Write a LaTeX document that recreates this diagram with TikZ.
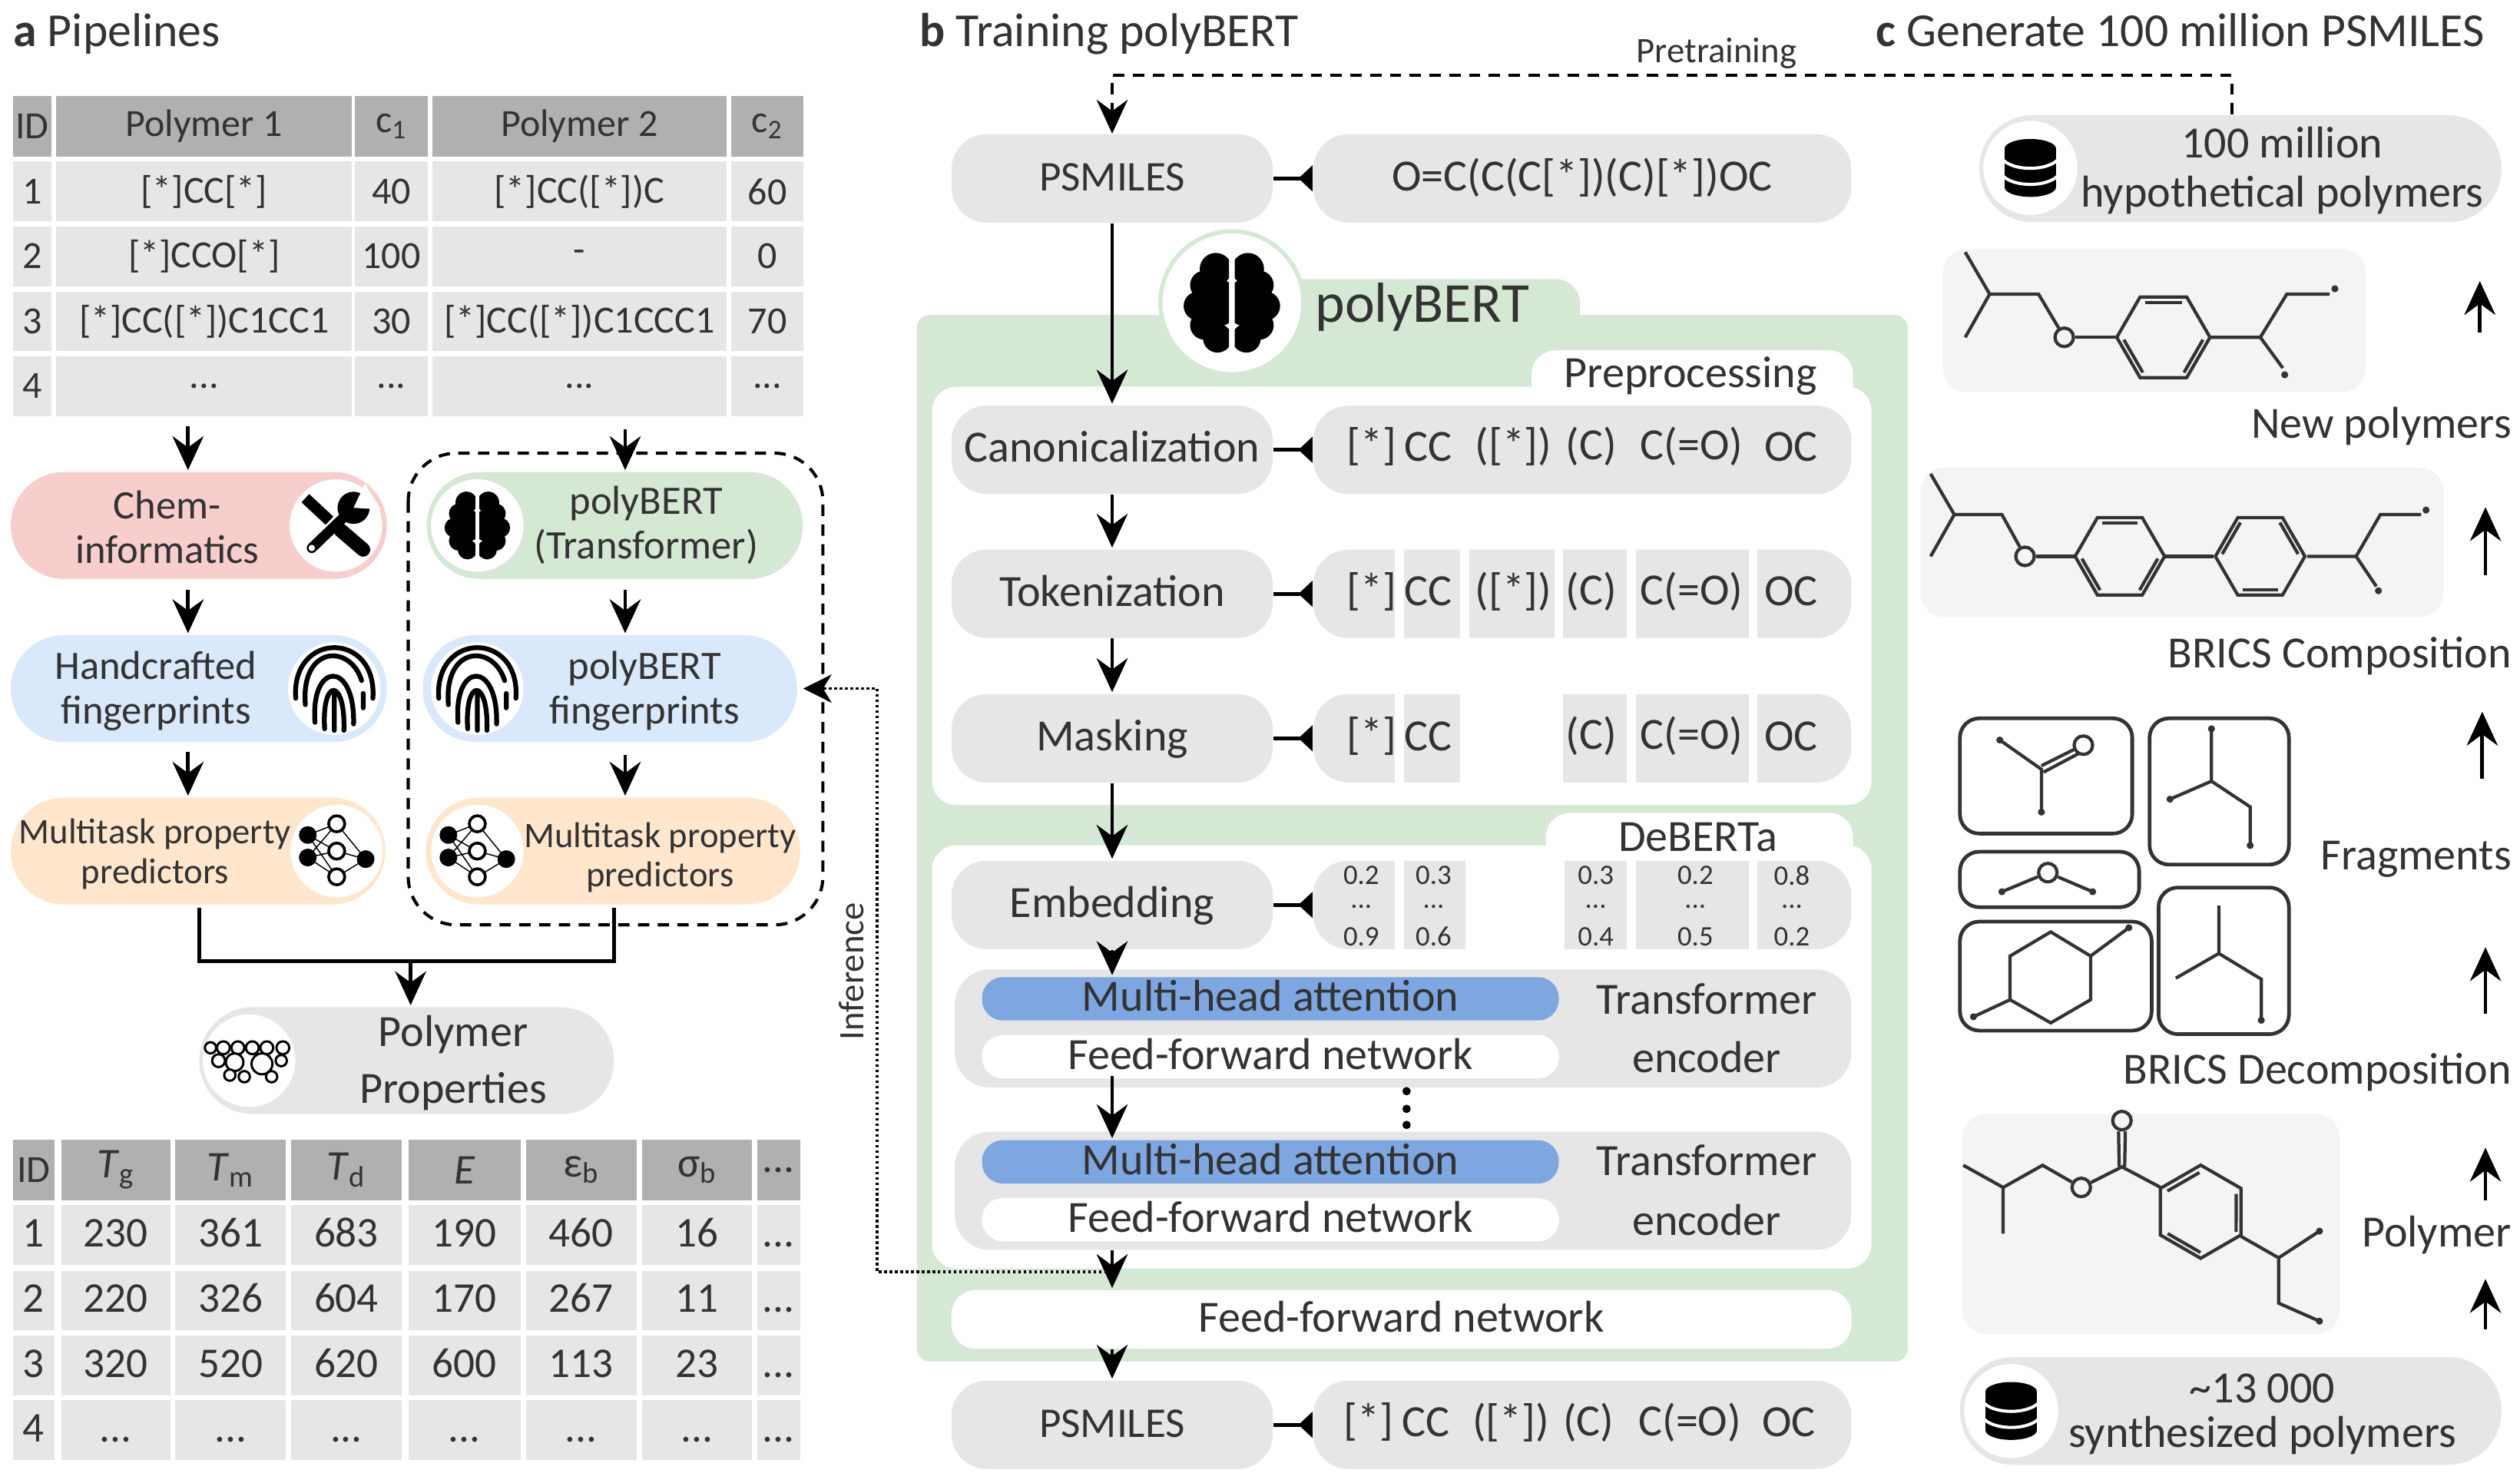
\documentclass[tikz,border=0pt]{standalone}
\usepackage{fontspec}
\setmainfont{Carlito}
\usepackage{xcolor}
\usepackage{tikz}
\usetikzlibrary{arrows.meta}

\definecolor{hdrgray}{HTML}{B0B0B0}
\definecolor{cellgray}{HTML}{E6E6E6}
\definecolor{molgray}{HTML}{F4F4F4}
\definecolor{pinkfill}{HTML}{F8CECC}
\definecolor{greenfill}{HTML}{D5E8D4}
\definecolor{bluefill}{HTML}{DAE8FC}
\definecolor{orangefill}{HTML}{FFE6CC}
\definecolor{headblue}{HTML}{7EA6E0}
\definecolor{inkc}{HTML}{333333}

\tikzset{
  lbl/.style={inner sep=0pt,align=center,text=inkc,font=\fontsize{14.3}{15.8}\selectfont},
  biglbl/.style={lbl,font=\fontsize{15.8}{17.3}\selectfont},
  small/.style={lbl,font=\fontsize{12.7}{14}\selectfont},
  titlelbl/.style={lbl,anchor=base west,font=\fontsize{16.8}{18}\selectfont},
  rightlbl/.style={biglbl,anchor=east},
  numlbl/.style={lbl,font=\fontsize{10}{11}\selectfont},
  hcell/.style={fill=hdrgray,inner sep=0pt,minimum height=.76cm,text=inkc,font=\fontsize{13.6}{15}\selectfont},
  bcell/.style={hcell,fill=cellgray,minimum height=.745cm},
  phead/.style={hcell,font=\fontsize{15}{16}\selectfont},
  pcell/.style={bcell,font=\fontsize{15}{16}\selectfont,text height=11pt,text depth=2.6pt},
  pillbox/.style={inner sep=0pt,minimum height=1.33cm,rounded corners=.66cm},
  iconbg/.style={circle,fill=white,inner sep=0pt,minimum size=1.18cm,line width=.8pt},
  grayblock/.style={biglbl,fill=cellgray,inner sep=0pt,minimum height=1.1cm,rounded corners=.44cm,text height=12pt,text depth=3.2pt},
  thinpill/.style={biglbl,fill=white,inner sep=0pt,minimum width=7.18cm,minimum height=.54cm,rounded corners=.26cm,text height=12pt,text depth=3.2pt},
  bluepill/.style={thinpill,fill=headblue},
  encbox/.style={fill=cellgray,inner sep=0pt,minimum width=11.16cm,minimum height=1.47cm,rounded corners=.44cm},
  fragbox/.style={draw=inkc,line width=1.3pt,rounded corners=.24cm},
  bond/.style={draw=inkc,line width=1.15pt},
  oatom/.style={circle,draw=inkc,line width=1.15pt,inner sep=0pt,minimum size=.23cm},
  flow/.style={black,line width=1.3pt,shorten >=.5pt,-{Stealth[length=12pt,width=11pt,inset=4pt]}},
  link/.style={black,line width=1.2pt},
  bar/.style={black,line width=1.3pt,-{Triangle[reversed,length=5pt,width=9pt]}},
  pretrain/.style={black,line width=1.1pt,dash pattern=on 4pt off 3pt,-{Stealth[length=12pt,width=11pt,inset=4pt]}},
  infer/.style={black,line width=.9pt,densely dotted,-{Stealth[length=10pt,width=10pt,inset=3pt]}},
  brainicon/.pic={
    \begin{scope}
      \clip (-32,-34) rectangle (-1.8,34);
      \fill (-10,-21) circle (10);
      \fill (-17,-11) circle (9);
      \fill (-21,2) circle (9);
      \fill (-17,14) circle (9);
      \fill (-9,22) circle (9);
      \fill (-10,0) circle (15);
    \end{scope}
    \begin{scope}
      \clip (1.8,-34) rectangle (32,34);
      \fill (10,-21) circle (10);
      \fill (17,-11) circle (9);
      \fill (21,2) circle (9);
      \fill (17,14) circle (9);
      \fill (9,22) circle (9);
      \fill (10,0) circle (15);
    \end{scope}
  },
  toolicon/.pic={
    \draw[line width=4pt] (-19,-17) -- (-4,-3);
    \draw[line width=5pt,line cap=round] (3,3) -- (17,15);
    \draw[line width=3.6pt,line cap=round] (-15,14) -- (9,-9);
    \fill (11,-11) circle (10);
    \fill[white] (11,-11) -- (18,-26) -- (28,-10) -- cycle;
    \fill[white] (-15,14) circle (2);
  },
  printicon/.pic={
    \draw[line width=1.7pt,line cap=round]
      (-24,6) .. controls (-27,-36) and (27,-36) .. (24,6)
      (-18,10) .. controls (-21,-27) and (10,-28) .. (17,-5)
      (18,3) -- (18,12)
      (-12,21) .. controls (-15,-17) and (13,-18) .. (12,22)
      (-6,25) .. controls (-8,-7) and (7,-7) .. (6,26)
      (0,26) -- (0,4);
  },
  neticon/.pic={
    \draw[line width=.4pt] (-18,-10) -- (0,-17) -- (18,5) -- (0,16) -- (-18,4) -- (0,0) -- (18,5)
      (-18,-10) -- (0,0) (-18,-10) -- (0,16) (-18,4) -- (0,-17);
    \fill (-18,-10) circle (5.5);
    \fill (-18,4) circle (5.5);
    \fill (18,5) circle (5.5);
    \draw[line width=1pt,fill=white] (0,-17) circle (5);
    \draw[line width=1pt,fill=white] (0,0) circle (5);
    \draw[line width=1pt,fill=white] (0,16) circle (5);
  },
  chainicon/.pic={
    \draw[line width=.8pt,fill=white] (-24,-8) circle (3.5);
    \draw[line width=.8pt,fill=white] (-16,-8) circle (4);
    \draw[line width=.8pt,fill=white] (-7,-8) circle (4);
    \draw[line width=.8pt,fill=white] (2,-8) circle (4);
    \draw[line width=.8pt,fill=white] (11,-8) circle (4);
    \draw[line width=.8pt,fill=white] (21,-8) circle (4);
    \draw[line width=.8pt,fill=white] (-19,0) circle (4);
    \draw[line width=.8pt,fill=white] (-9,1) circle (5.5);
    \draw[line width=.8pt,fill=white] (8,2) circle (6.5);
    \draw[line width=.8pt,fill=white] (20,0) circle (3.5);
    \draw[line width=.8pt,fill=white] (-12,9) circle (3.5);
    \draw[line width=.8pt,fill=white] (-3,10) circle (3.5);
    \draw[line width=.8pt,fill=white] (14,10) circle (3.5);
  },
  dbicon/.pic={
    \fill (0,-12) ellipse (16 and 6);
    \fill (-16,-12) rectangle (16,12);
    \fill (0,12) ellipse (16 and 6);
    \draw[white,line width=1.1pt] (-17,-5) .. controls (-10,2) and (10,2) .. (17,-5);
    \draw[white,line width=1.1pt] (-17,5) .. controls (-10,12) and (10,12) .. (17,5);
  },
  benzene/.pic={
    \draw[bond] (29,0) -- (14.5,-25.1) -- (-14.5,-25.1) -- (-29,0) -- (-14.5,25.1) -- (14.5,25.1) -- cycle;
    \draw[bond] (-11.5,-21.5) -- (11.5,-21.5);
    \draw[bond] (-24.6,1.5) -- (-12.8,21.9);
    \draw[bond] (24.6,1.5) -- (12.8,21.9);
  }
}

\begin{document}
\begin{tikzpicture}[x=.02cm,y=-.02cm]
  \useasboundingbox (0,0) rectangle (1568,922.4);

  \node[titlelbl] (ta) at (8,29) {\textbf{a} Pipelines};
  \node[titlelbl] (tb) at (572,29) {\textbf{b} Training polyBERT};
  \node[titlelbl] (tc) at (1167,29) {\textbf{c} Generate 100 million PSMILES};

  \node[hcell,minimum width=.48cm] (a00) at (20,78.5) {ID};
  \node[hcell,minimum width=3.68cm] (a01) at (127,78.5) {Polymer 1};
  \node[hcell,minimum width=.9cm] (a02) at (243.5,78.5) {c\textsubscript{1}};
  \node[hcell,minimum width=3.66cm] (a03) at (360.5,78.5) {Polymer 2};
  \node[hcell,minimum width=.9cm] (a04) at (477.5,78.5) {c\textsubscript{2}};
  \node[bcell,minimum width=.48cm] (a10) at (20,119.2) {1};
  \node[bcell,minimum width=3.68cm] (a11) at (127,119.2) {[*]CC[*]};
  \node[bcell,minimum width=.9cm] (a12) at (243.5,119.2) {40};
  \node[bcell,minimum width=3.66cm] (a13) at (360.5,119.2) {[*]CC([*])C};
  \node[bcell,minimum width=.9cm] (a14) at (477.5,119.2) {60};
  \node[bcell,minimum width=.48cm] (a20) at (20,159.5) {2};
  \node[bcell,minimum width=3.68cm] (a21) at (127,159.5) {[*]CCO[*]};
  \node[bcell,minimum width=.9cm] (a22) at (243.5,159.5) {100};
  \node[bcell,minimum width=3.66cm] (a23) at (360.5,159.5) {-};
  \node[bcell,minimum width=.9cm] (a24) at (477.5,159.5) {0};
  \node[bcell,minimum width=.48cm] (a30) at (20,200) {3};
  \node[bcell,minimum width=3.68cm] (a31) at (127,200) {[*]CC([*])C1CC1};
  \node[bcell,minimum width=.9cm] (a32) at (243.5,200) {30};
  \node[bcell,minimum width=3.66cm] (a33) at (360.5,200) {[*]CC([*])C1CCC1};
  \node[bcell,minimum width=.9cm] (a34) at (477.5,200) {70};
  \node[bcell,minimum width=.48cm] (a40) at (20,240.3) {4};
  \node[bcell,minimum width=3.68cm] (a41) at (127,240.3) {...};
  \node[bcell,minimum width=.9cm] (a42) at (243.5,240.3) {...};
  \node[bcell,minimum width=3.66cm] (a43) at (360.5,240.3) {...};
  \node[bcell,minimum width=.9cm] (a44) at (477.5,240.3) {...};

  \draw[black,line width=1.1pt,dash pattern=on 4pt off 3pt,rounded corners=.6cm] (254,282) rectangle (512,575.5);

  \node[pillbox,fill=pinkfill,minimum width=4.68cm] (chem) at (123.7,327) {};
  \node[iconbg,draw=pinkfill] (chemc) at (209,327) {};
  \pic at (chemc) {toolicon};
  \node[lbl] (chemt) at (104,328) {Chem-\\informatics};

  \node[pillbox,fill=greenfill,minimum width=4.68cm] (bert) at (382.5,327) {};
  \node[iconbg,draw=greenfill] (bertc) at (297,327) {};
  \pic[scale=.68] at (bertc) {brainicon};
  \node[lbl] (bertt) at (402,327) {polyBERT\\(Transformer)};

  \node[pillbox,fill=bluefill,minimum width=4.68cm] (hand) at (123.7,428.5) {};
  \node[iconbg,draw=bluefill] (handc) at (208,428.5) {};
  \pic at (handc) {printicon};
  \node[lbl] (handt) at (97,430) {Handcrafted\\fingerprints};

  \node[pillbox,fill=bluefill,minimum width=4.66cm] (fprint) at (379.5,428.5) {};
  \node[iconbg,draw=bluefill] (fprintc) at (297,428.5) {};
  \pic at (fprintc) {printicon};
  \node[lbl] (fprintt) at (401,430) {polyBERT\\fingerprints};

  \node[pillbox,fill=orangefill,minimum width=4.66cm] (mtl) at (123.2,529.6) {};
  \node[iconbg,draw=orangefill] (mtlc) at (209.5,529.6) {};
  \pic at (mtlc) {neticon};
  \node[small] (mtlt) at (96.5,531.5) {Multitask property\\predictors};

  \node[pillbox,fill=orangefill,minimum width=4.66cm] (mtr) at (381.5,529.6) {};
  \node[iconbg,draw=orangefill] (mtrc) at (297,529.6) {};
  \pic at (mtrc) {neticon};
  \node[small] (mtrt) at (410.7,533.5) {Multitask property\\predictors};

  \node[pillbox,fill=cellgray,minimum width=5.16cm] (props) at (253,660) {};
  \node[iconbg,draw=cellgray] (propsc) at (155,660) {};
  \pic at (propsc) {chainicon};
  \node[biglbl] (propst) at (282,661.5) {Polymer\\[3pt]Properties};

  \coordinate (axl) at (117,0);
  \coordinate (axr) at (389,0);
  \coordinate (al0) at (117,265);
  \coordinate (ar0) at (389,267);
  \coordinate (al1) at (117,367);
  \coordinate (ar1) at (389,367);
  \coordinate (al2) at (117,468);
  \coordinate (ar2) at (389,470);
  \coordinate (ml) at (124,565);
  \coordinate (mr) at (382,565);
  \coordinate (mm) at (255.5,598);
  \draw[flow] (al0) -- (axl |- chem.north);
  \draw[flow] (ar0) -- (axr |- bert.north);
  \draw[flow] (al1) -- (axl |- hand.north);
  \draw[flow] (ar1) -- (axr |- fprint.north);
  \draw[flow] (al2) -- (axl |- mtl.north);
  \draw[flow] (ar2) -- (axr |- mtr.north);
  \draw[link] (ml) |- (mm) -| (mr);
  \draw[flow] (mm) -- (mm |- props.north);

  \node[hcell,minimum width=.52cm] (p00) at (21,728) {ID};
  \node[phead,minimum width=1.36cm] (p01) at (72,728) {\textit{T}\textsubscript{g}};
  \node[phead,minimum width=1.38cm] (p02) at (143.5,728) {\textit{T}\textsubscript{m}};
  \node[phead,minimum width=1.38cm] (p03) at (215.5,728) {\textit{T}\textsubscript{d}};
  \node[phead,minimum width=1.4cm] (p04) at (289,728) {\textit{E}};
  \node[phead,minimum width=1.37cm] (p05) at (361.7,728) {ε\textsubscript{b}};
  \node[phead,minimum width=1.37cm] (p06) at (433.8,728) {σ\textsubscript{b}};
  \node[phead,minimum width=.54cm] (p07) at (484.5,728) {...};
  \node[pcell,minimum width=.52cm] (p10) at (21,768.5) {1};
  \node[pcell,minimum width=1.36cm] (p11) at (72,768.5) {230};
  \node[pcell,minimum width=1.38cm] (p12) at (143.5,768.5) {361};
  \node[pcell,minimum width=1.38cm] (p13) at (215.5,768.5) {683};
  \node[pcell,minimum width=1.4cm] (p14) at (289,768.5) {190};
  \node[pcell,minimum width=1.37cm] (p15) at (361.7,768.5) {460};
  \node[pcell,minimum width=1.37cm] (p16) at (433.8,768.5) {16};
  \node[pcell,minimum width=.54cm] (p17) at (484.5,768.5) {...};
  \node[pcell,minimum width=.52cm] (p20) at (21,809.3) {2};
  \node[pcell,minimum width=1.36cm] (p21) at (72,809.3) {220};
  \node[pcell,minimum width=1.38cm] (p22) at (143.5,809.3) {326};
  \node[pcell,minimum width=1.38cm] (p23) at (215.5,809.3) {604};
  \node[pcell,minimum width=1.4cm] (p24) at (289,809.3) {170};
  \node[pcell,minimum width=1.37cm] (p25) at (361.7,809.3) {267};
  \node[pcell,minimum width=1.37cm] (p26) at (433.8,809.3) {11};
  \node[pcell,minimum width=.54cm] (p27) at (484.5,809.3) {...};
  \node[pcell,minimum width=.52cm] (p30) at (21,849.5) {3};
  \node[pcell,minimum width=1.36cm] (p31) at (72,849.5) {320};
  \node[pcell,minimum width=1.38cm] (p32) at (143.5,849.5) {520};
  \node[pcell,minimum width=1.38cm] (p33) at (215.5,849.5) {620};
  \node[pcell,minimum width=1.4cm] (p34) at (289,849.5) {600};
  \node[pcell,minimum width=1.37cm] (p35) at (361.7,849.5) {113};
  \node[pcell,minimum width=1.37cm] (p36) at (433.8,849.5) {23};
  \node[pcell,minimum width=.54cm] (p37) at (484.5,849.5) {...};
  \node[pcell,minimum width=.52cm] (p40) at (21,890) {4};
  \node[pcell,minimum width=1.36cm] (p41) at (72,890) {...};
  \node[pcell,minimum width=1.38cm] (p42) at (143.5,890) {...};
  \node[pcell,minimum width=1.38cm] (p43) at (215.5,890) {...};
  \node[pcell,minimum width=1.4cm] (p44) at (289,890) {...};
  \node[pcell,minimum width=1.37cm] (p45) at (361.7,890) {...};
  \node[pcell,minimum width=1.37cm] (p46) at (433.8,890) {...};
  \node[pcell,minimum width=.54cm] (p47) at (484.5,890) {...};

  \fill[greenfill,rounded corners=.16cm] (570.5,196) rectangle (1187,847.2);
  \fill[greenfill,rounded corners=.3cm] (740,173.6) rectangle (983,230);
  \fill[white,rounded corners=.3cm] (953,218) rectangle (1153,270);
  \fill[white,rounded corners=.3cm] (580,240.7) rectangle (1164.5,501);
  \fill[white,rounded corners=.3cm] (961.8,505.8) rectangle (1153,560);
  \fill[white,rounded corners=.3cm] (580,526) rectangle (1164.5,789.3);
  \node[iconbg,draw=greenfill,line width=1.5pt,minimum size=1.78cm] (brainc) at (766.5,188.4) {};
  \pic at (brainc) {brainicon};
  \node[lbl,font=\fontsize{20}{22}\selectfont,anchor=west] (brainl) at (818,191) {polyBERT};
  \node[biglbl] (prep) at (1052,234) {Preprocessing};
  \node[biglbl] (deb) at (1056.5,521) {DeBERTa};

  \node[grayblock,minimum width=4cm,font=\fontsize{15}{16}\selectfont] (psm) at (692,111) {PSMILES};
  \node[grayblock,minimum width=6.7cm] (psmr) at (984.5,111) {O=C(C(C[*])(C)[*])OC};
  \node[grayblock,minimum width=4cm] (cano) at (692,279.9) {Canonicalization};
  \node[grayblock,minimum width=6.7cm] (canor) at (984.5,279.9) {};
  \node[biglbl] (c1) at (853.4,278) {[*]};
  \node[biglbl] (c2) at (888.8,278) {CC};
  \node[biglbl] (c3) at (941.7,278) {([*])};
  \node[biglbl] (c4) at (990,278) {(C)};
  \node[biglbl] (c5) at (1052.7,278) {C(=O)};
  \node[biglbl] (c6) at (1114.5,278) {OC};

  \node[grayblock,minimum width=4cm] (tok) at (692,369.5) {Tokenization};
  \node[grayblock,minimum width=6.7cm] (tokr) at (984.5,369.5) {};
  \fill[white] (868,342) rectangle (873.4,397);
  \fill[white] (908.5,342) rectangle (914,397);
  \fill[white] (967.3,342) rectangle (972.4,397);
  \fill[white] (1012.1,342) rectangle (1017.7,397);
  \fill[white] (1088.1,342) rectangle (1093.2,397);
  \node[biglbl] (t1) at (853.4,368) {[*]};
  \node[biglbl] (t2) at (888.8,368) {CC};
  \node[biglbl] (t3) at (941.7,368) {([*])};
  \node[biglbl] (t4) at (990,368) {(C)};
  \node[biglbl] (t5) at (1052.7,368) {C(=O)};
  \node[biglbl] (t6) at (1114.5,368) {OC};

  \node[grayblock,minimum width=4cm] (mask) at (692,459.4) {Masking};
  \node[grayblock,minimum width=6.7cm] (maskr) at (984.5,459.4) {};
  \fill[white] (868,431.8) rectangle (873.4,487);
  \fill[white] (908.5,431.8) rectangle (972.4,487);
  \fill[white] (1012.1,431.8) rectangle (1017.7,487);
  \fill[white] (1088.1,431.8) rectangle (1093.2,487);
  \node[biglbl] (m1) at (853.4,458) {[*]};
  \node[biglbl] (m2) at (888.8,458) {CC};
  \node[biglbl] (m4) at (990,458) {(C)};
  \node[biglbl] (m5) at (1052.7,458) {C(=O)};
  \node[biglbl] (m6) at (1114.5,458) {OC};

  \node[grayblock,minimum width=4cm] (emb) at (692,563.1) {Embedding};
  \node[grayblock,minimum width=6.7cm] (embr) at (984.5,563.1) {};
  \fill[white] (868,535.5) rectangle (873.4,590.8);
  \fill[white] (912,535.5) rectangle (973.6,590.8);
  \fill[white] (1012,535.5) rectangle (1017.7,590.8);
  \fill[white] (1088,535.5) rectangle (1093.2,590.8);
  \node[numlbl] (e1) at (847,544.7) {0.2};
  \node[numlbl] (e1d) at (847,564) {...};
  \node[numlbl] (e1b) at (847,582.8) {0.9};
  \node[numlbl] (e2) at (892,544.7) {0.3};
  \node[numlbl] (e2d) at (892,564) {...};
  \node[numlbl] (e2b) at (892,582.8) {0.6};
  \node[numlbl] (e3) at (992.9,544.7) {0.3};
  \node[numlbl] (e3d) at (992.9,564) {...};
  \node[numlbl] (e3b) at (992.9,582.8) {0.4};
  \node[numlbl] (e4) at (1054.9,544.7) {0.2};
  \node[numlbl] (e4d) at (1054.9,564) {...};
  \node[numlbl] (e4b) at (1054.9,582.8) {0.5};
  \node[numlbl] (e5) at (1114.9,544.7) {0.8};
  \node[numlbl] (e5d) at (1114.9,564) {...};
  \node[numlbl] (e5b) at (1114.9,582.8) {0.2};

  \node[encbox] (enca) at (873,640) {};
  \node[bluepill] (heada) at (790.5,621.5) {Multi-head attention};
  \node[thinpill] (ffa) at (790.5,657.6) {Feed-forward network};
  \node[biglbl] (tfa) at (1062,621.5) {Transformer};
  \node[biglbl] (ena) at (1062,658) {encoder};
  \fill[black] (875.2,679) circle (2.6);
  \fill[black] (875.2,690) circle (2.6);
  \fill[black] (875.2,700) circle (2.6);
  \node[encbox] (encb) at (873,741) {};
  \node[bluepill] (headb) at (790.5,723) {Multi-head attention};
  \node[thinpill] (ffb) at (790.5,759) {Feed-forward network};
  \node[biglbl] (tfb) at (1062,722) {Transformer};
  \node[biglbl] (enb) at (1062,759) {encoder};

  \node[thinpill,minimum width=11.2cm,minimum height=.73cm,rounded corners=.3cm] (ffn) at (872,821) {Feed-forward network};

  \node[grayblock,minimum width=4cm,font=\fontsize{15}{16}\selectfont] (out) at (692,886.6) {PSMILES};
  \node[grayblock,minimum width=6.7cm] (outr) at (984.5,886.6) {};
  \node[biglbl] (o1) at (851.5,885) {[*]};
  \node[biglbl] (o2) at (887,885) {CC};
  \node[biglbl] (o3) at (940,885) {([*])};
  \node[biglbl] (o4) at (988.5,885) {(C)};
  \node[biglbl] (o5) at (1051.5,885) {C(=O)};
  \node[biglbl] (o6) at (1113,885) {OC};

  \draw[bar] (psm.east) -- (psmr.west);
  \draw[bar] (cano.east) -- (canor.west);
  \draw[bar] (tok.east) -- (tokr.west);
  \draw[bar] (mask.east) -- (maskr.west);
  \draw[bar] (emb.east) -- (embr.west);
  \draw[bar] (out.east) -- (outr.west);

  \coordinate (axb) at (692,0);
  \coordinate (fa) at (692,669.4);
  \coordinate (infa) at (692,791.4);
  \coordinate (infb) at (545.8,791.4);
  \draw[flow] (psm.south) -- (cano.north);
  \draw[flow] (cano.south) -- (tok.north);
  \draw[flow] (tok.south) -- (mask.north);
  \draw[flow] (mask.south) -- (emb.north);
  \draw[flow] (emb.south) -- (axb |- heada.north);
  \draw[flow] (fa) -- (axb |- headb.north);
  \draw[flow] (axb |- encb.south) -- (axb |- ffn.north);
  \draw[flow] (axb |- ffn.south) -- (out.north);
  \draw[infer] (infa) -- (infb) |- ([xshift=2pt]fprint.east);
  \node[small,rotate=90] (infl) at (530,604.5) {Inference};

  \coordinate (prea) at (1388.7,71.3);
  \coordinate (preb) at (1388.7,47);
  \coordinate (prec) at (692,47);
  \draw[pretrain] (prea) -- (preb) -- (prec) -- (psm.north);
  \node[small] (prel) at (1068,33) {Pretraining};

  \node[pillbox,fill=cellgray,minimum width=6.5cm] (hypo) at (1394,105) {};
  \node[iconbg,draw=cellgray,minimum size=1.2cm] (hypoc) at (1263.3,104.5) {};
  \pic at (hypoc) {dbicon};
  \node[biglbl] (hypot) at (1420,106) {100 million\\hypothetical polymers};

  \fill[molgray,rounded corners=.3cm] (1208.8,155) rectangle (1472,244);
  \node[oatom] (oa) at (1284.4,209.9) {};
  \draw[bond] (1222.8,156.9) -- (1238,183) -- (1222.8,209.9);
  \draw[bond] (1238,183) -- (1268.4,183) -- (oa);
  \draw[bond] (oa) -- (1316.5,209.9);
  \pic at (1346.1,209.9) {benzene};
  \draw[bond] (1375.5,209.9) -- (1406.4,209.9) -- (1422.9,183) -- (1449.5,183);
  \draw[bond] (1406.4,209.9) -- (1420.4,229);
  \fill[inkc] (1452.8,179.7) circle (2.2);
  \fill[inkc] (1421.6,233.2) circle (2.2);
  \node[rightlbl] (newl) at (1563,265) {New polymers};

  \fill[molgray,rounded corners=.3cm] (1194.9,290.8) rectangle (1520.4,384);
  \node[oatom] (ob) at (1260,346.2) {};
  \draw[bond] (1201.3,294.9) -- (1216,320.2) -- (1201.3,346.2);
  \draw[bond] (1216,320.2) -- (1245.6,320.2) -- (ob);
  \draw[bond] (ob) -- (1291.2,346.2);
  \pic[scale=.96] at (1319,346.2) {benzene};
  \draw[bond] (1347,346.2) -- (1377.3,346.2);
  \pic[scale=.96,rotate=180] at (1406.3,346.2) {benzene};
  \draw[bond] (1435.6,346.2) -- (1466,346.2) -- (1481.1,320.2) -- (1506.5,320.2);
  \draw[bond] (1466,346.2) -- (1478.6,364.9);
  \fill[inkc] (1509.5,317.4) circle (2.2);
  \fill[inkc] (1479.9,367.6) circle (2.2);
  \node[rightlbl] (coml) at (1563,408) {BRICS Composition};

  \draw[fragbox] (1219.5,447) rectangle (1326.7,518.7);
  \node[oatom] (oc) at (1296.3,463.7) {};
  \draw[bond] (1244.3,460.5) -- (1270.2,478.7) -- (1270.2,505.3);
  \draw[bond] (1270.2,476.5) -- ([yshift=1.5pt]oc.south west);
  \draw[bond] (1271.5,480.5) -- ([xshift=1.5pt]oc.south west);
  \fill[inkc] (1244.3,460.5) circle (2.2);
  \fill[inkc] (1270.2,505.3) circle (2.2);

  \draw[fragbox] (1337.5,447) rectangle (1424.2,538);
  \draw[bond] (1376,453.5) -- (1376,486.1) -- (1350.2,497.3);
  \draw[bond] (1376,486.1) -- (1400.1,502.1) -- (1400.1,526.1);
  \fill[inkc] (1376,453.5) circle (2.2);
  \fill[inkc] (1350.2,497.3) circle (2.2);
  \fill[inkc] (1400.1,526.1) circle (2.2);

  \draw[fragbox] (1219.5,530) rectangle (1331,564.5);
  \node[oatom] (od) at (1274.2,543) {};
  \draw[bond] (1245.6,554.9) -- (od) -- (1302.1,554.9);
  \fill[inkc] (1245.6,554.9) circle (2.2);
  \fill[inkc] (1302.1,554.9) circle (2.2);

  \draw[fragbox] (1219.5,573.5) rectangle (1338.8,641.3);
  \draw[bond] (1276,579.9) -- (1300.8,594.9) -- (1300.8,622.1) -- (1276,636.5) -- (1250.7,622.1) -- (1250.7,594.9) -- cycle;
  \draw[bond] (1300.8,594.9) -- (1324.6,577.3);
  \draw[bond] (1250.7,622.1) -- (1227.9,632.7);
  \fill[inkc] (1324.6,577.3) circle (2.2);
  \fill[inkc] (1227.9,632.7) circle (2.2);

  \draw[fragbox] (1343.1,552.3) rectangle (1424.2,643.5);
  \draw[bond] (1380.6,563.5) -- (1380.6,593.3) -- (1353.8,608.7);
  \draw[bond] (1380.6,593.3) -- (1407,609.3) -- (1407,634.9);
  \fill[inkc] (1407,634.9) circle (2.2);
  \node[rightlbl] (fragl) at (1563,534.5) {Fragments};
  \node[rightlbl] (decl) at (1563,667) {BRICS Decomposition};

  \fill[molgray,rounded corners=.3cm] (1221,693.1) rectangle (1455.8,830.1);
  \node[oatom] (oe) at (1295,738.9) {};
  \node[oatom] (of) at (1320.3,697.3) {};
  \draw[bond] (1221.6,725.1) -- (1246.4,738.9) -- (1246.4,767.7);
  \draw[bond] (1246.4,738.9) -- (1270.9,725.1) -- (oe);
  \draw[bond] (oe) -- (1320.3,726.1) -- (1344.4,738.9);
  \draw[bond] ([xshift=-1.2pt]of.south) -- (1318.6,726);
  \draw[bond] ([xshift=1.2pt]of.south) -- (1322,726);
  \pic[rotate=30] at (1369.3,754) {benzene};
  \draw[bond] (1394.3,769.3) -- (1417.8,782.7) -- (1443.2,766.1);
  \draw[bond] (1417.8,782.7) -- (1417.8,810.9) -- (1443.2,822.1);
  \fill[inkc] (1443.2,766.1) circle (2.2);
  \fill[inkc] (1443.2,822.1) circle (2.2);
  \node[rightlbl] (poll) at (1563,768.7) {Polymer};

  \node[pillbox,fill=cellgray,minimum width=6.74cm,minimum height=1.34cm] (syn) at (1388,878) {};
  \node[iconbg,draw=cellgray,minimum size=1.2cm] (sync) at (1251.4,878) {};
  \pic at (sync) {dbicon};
  \node[biglbl] (synt) at (1407.7,880) {\textasciitilde13 000\\[-1.5pt]synthesized polymers};

  \coordinate (ua) at (1543,207);
  \coordinate (ub) at (1543,174);
  \coordinate (uc) at (1546.5,358);
  \coordinate (ud) at (1546.5,314.7);
  \coordinate (ue) at (1544.5,484.5);
  \coordinate (uf) at (1544.5,442);
  \coordinate (ug) at (1546.5,631);
  \coordinate (uh) at (1546.5,588.5);
  \coordinate (ui) at (1546.5,747);
  \coordinate (uj) at (1546.5,713.3);
  \coordinate (uk) at (1546.5,827);
  \coordinate (ul) at (1546.5,795);
  \draw[flow] (ua) -- (ub);
  \draw[flow] (uc) -- (ud);
  \draw[flow] (ue) -- (uf);
  \draw[flow] (ug) -- (uh);
  \draw[flow] (ui) -- (uj);
  \draw[flow] (uk) -- (ul);
\end{tikzpicture}
\end{document}
